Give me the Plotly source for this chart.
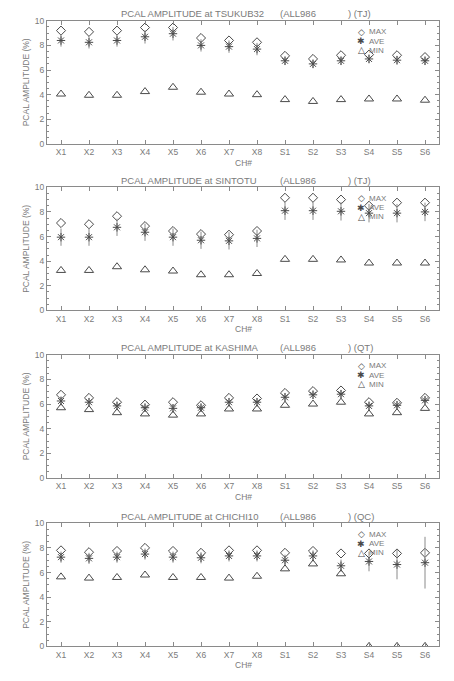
import plotly.graph_objects as go

W, H = 454, 681

channels = ["X1", "X2", "X3", "X4", "X5", "X6", "X7", "X8",
            "S1", "S2", "S3", "S4", "S5", "S6"]
stations = ["TSUKUB32", "SINTOTU", "KASHIMA", "CHICHI10"]
codes = ["TJ", "TJ", "QT", "QC"]

tsukub32_max = [9.2, 9.1, 9.2, 9.45, 9.45, 8.6, 8.4, 8.25, 7.15, 6.9, 7.2, 7.25, 7.2, 7.05]
tsukub32_ave = [8.4, 8.25, 8.4, 8.7, 8.95, 8.0, 7.9, 7.7, 6.75, 6.5, 6.75, 6.9, 6.8, 6.75]
tsukub32_min = [4.05, 3.95, 3.95, 4.25, 4.6, 4.2, 4.05, 4.0, 3.6, 3.45, 3.6, 3.65, 3.65, 3.55]
tsukub32_err = [0.5, 0.5, 0.5, 0.55, 0.55, 0.5, 0.5, 0.5, 0.35, 0.35, 0.35, 0.35, 0.35, 0.35]

sintotu_max = [7.1, 7.0, 7.65, 6.85, 6.45, 6.2, 6.15, 6.45, 9.15, 9.15, 9.0, 8.5, 8.75, 8.75]
sintotu_ave = [5.95, 5.95, 6.75, 6.35, 5.95, 5.7, 5.65, 5.85, 8.1, 8.1, 8.05, 7.9, 7.9, 8.0]
sintotu_min = [3.25, 3.25, 3.55, 3.3, 3.2, 2.9, 2.9, 3.0, 4.15, 4.15, 4.1, 3.85, 3.85, 3.85]
sintotu_err = [0.7, 0.7, 0.7, 0.7, 0.7, 0.7, 0.7, 0.7, 0.75, 0.75, 0.75, 0.75, 0.75, 0.75]

kashima_max = [6.75, 6.5, 6.15, 5.95, 6.15, 5.9, 6.5, 6.45, 6.9, 7.05, 7.1, 6.15, 6.1, 6.5]
kashima_ave = [6.25, 6.15, 5.85, 5.7, 5.65, 5.7, 6.15, 6.15, 6.55, 6.75, 6.8, 5.85, 5.9, 6.3]
kashima_min = [5.7, 5.55, 5.3, 5.2, 5.1, 5.2, 5.6, 5.6, 5.9, 6.0, 6.15, 5.2, 5.3, 5.65]
kashima_err = [0.35] * 14

chichi10_max = [7.8, 7.65, 7.75, 8.0, 7.75, 7.6, 7.8, 7.8, 7.6, 7.75, 7.55, 7.55, 7.55, 7.6]
chichi10_ave = [7.25, 7.15, 7.25, 7.5, 7.25, 7.2, 7.35, 7.35, 7.0, 7.35, 6.55, 6.9, 6.65, 6.8]
chichi10_min = [5.65, 5.55, 5.6, 5.8, 5.6, 5.6, 5.55, 5.7, 6.3, 6.7, 5.9, 0.0, 0.0, 0.0]
chichi10_err = [0.45, 0.45, 0.45, 0.45, 0.45, 0.45, 0.45, 0.45, 0.45, 0.45, 0.5, 0.8, 1.2, 2.1]

panels = [
    (tsukub32_max, tsukub32_ave, tsukub32_min, tsukub32_err),
    (sintotu_max, sintotu_ave, sintotu_min, sintotu_err),
    (kashima_max, kashima_ave, kashima_min, kashima_err),
    (chichi10_max, chichi10_ave, chichi10_min, chichi10_err),
]

# layout geometry (pixels)
PL, PR = 47, 439
tops = [16, 185, 355, 526]
PH = 125

TXT = "#7a7a7a"
AX = "#8a8a8a"
MK = "#4a4a4a"
FONT = "Liberation Sans"

def px(x):
    return x / W

def py(y):
    return 1 - y / H

fig = go.Figure()
annotations = []
layout = {}

for i, (vmax, vave, vmin, verr) in enumerate(panels):
    n = "" if i == 0 else str(i + 1)
    xa, ya = "x" + n, "y" + n
    top = tops[i]
    bot = top + PH
    fig.add_trace(go.Scatter(
        x=channels, y=vmax, mode="markers", xaxis=xa, yaxis=ya, showlegend=False,
        marker=dict(symbol="diamond-open", size=7, color=MK, line=dict(width=1, color=MK))))
    fig.add_trace(go.Scatter(
        x=channels, y=vave, mode="markers", xaxis=xa, yaxis=ya, showlegend=False,
        error_y=dict(type="data", array=verr, color="#8a8a8a", thickness=1, width=0),
        marker=dict(symbol="asterisk-open", size=7, color=MK, line=dict(width=1, color=MK))))
    fig.add_trace(go.Scatter(
        x=channels, y=vmin, mode="markers", xaxis=xa, yaxis=ya, showlegend=False,
        marker=dict(symbol="triangle-up-open", size=8, color=MK, line=dict(width=1, color=MK))))

    layout["xaxis" + n] = dict(
        domain=[px(PL), px(PR)], anchor=ya, type="category",
        categoryorder="array", categoryarray=channels, range=[-0.5, 13.5],
        showline=True, linecolor=AX, linewidth=1, mirror="ticks",
        ticks="inside", ticklen=4, tickcolor=AX, showgrid=False, zeroline=False,
        tickfont=dict(family=FONT, size=8.5, color=TXT))
    layout["yaxis" + n] = dict(
        domain=[py(bot), py(top)], anchor=xa, range=[0, 10], tick0=0, dtick=2,
        showline=True, linecolor=AX, linewidth=1, mirror="ticks",
        ticks="inside", ticklen=4, tickcolor=AX, showgrid=False, zeroline=False,
        minor=dict(dtick=0.5, ticks="inside", ticklen=2, tickcolor=AX, showgrid=False),
        tickfont=dict(family=FONT, size=8.5, color=TXT))

    # title pieces
    tf = dict(family=FONT, size=9.5, color=TXT)
    ty = py(top - 7)
    annotations.append(dict(text="PCAL AMPLITUDE at " + stations[i], x=px(119), y=ty,
                            xref="paper", yref="paper", xanchor="left", yanchor="middle",
                            showarrow=False, font=tf))
    annotations.append(dict(text="(ALL986", x=px(278), y=ty, xref="paper", yref="paper",
                            xanchor="left", yanchor="middle", showarrow=False, font=tf))
    annotations.append(dict(text=")\u00a0(" + codes[i] + ")", x=px(346), y=ty, xref="paper", yref="paper",
                            xanchor="left", yanchor="middle", showarrow=False, font=tf))
    # axis titles
    annotations.append(dict(text="PCAL AMPLITUDE (%)", x=px(26), y=py(top + PH / 2),
                            xref="paper", yref="paper", xanchor="center", yanchor="middle",
                            textangle=-90, showarrow=False,
                            font=dict(family=FONT, size=8.5, color=TXT)))
    annotations.append(dict(text="CH#", x=px(243), y=py(bot + 19),
                            xref="paper", yref="paper", xanchor="center", yanchor="middle",
                            showarrow=False, font=dict(family=FONT, size=8.5, color=TXT)))
    # legend
    for glyph, label, off in [("\u25c7", "MAX", 11), ("\u2731", "AVE", 21), ("\u25b3", "MIN", 30)]:
        annotations.append(dict(text=glyph, x=px(361), y=py(top + off), xref="paper", yref="paper",
                                xanchor="center", yanchor="middle", showarrow=False,
                                font=dict(family="DejaVu Sans", size=9, color=MK)))
        annotations.append(dict(text=label, x=px(367), y=py(top + off), xref="paper", yref="paper",
                                xanchor="left", yanchor="middle", showarrow=False,
                                font=dict(family=FONT, size=8, color=TXT)))

fig.update_layout(
    width=W, height=H, margin=dict(l=0, r=0, t=0, b=0, pad=0),
    paper_bgcolor="white", plot_bgcolor="white", showlegend=False,
    annotations=annotations, **layout)

fig.write_html(
    "out.html",
    config={"displayModeBar": False, "staticPlot": True},
    post_script=("document.documentElement.style.overflow='hidden';"
                 "document.body.style.margin='0';document.body.style.overflow='hidden';"),
)
